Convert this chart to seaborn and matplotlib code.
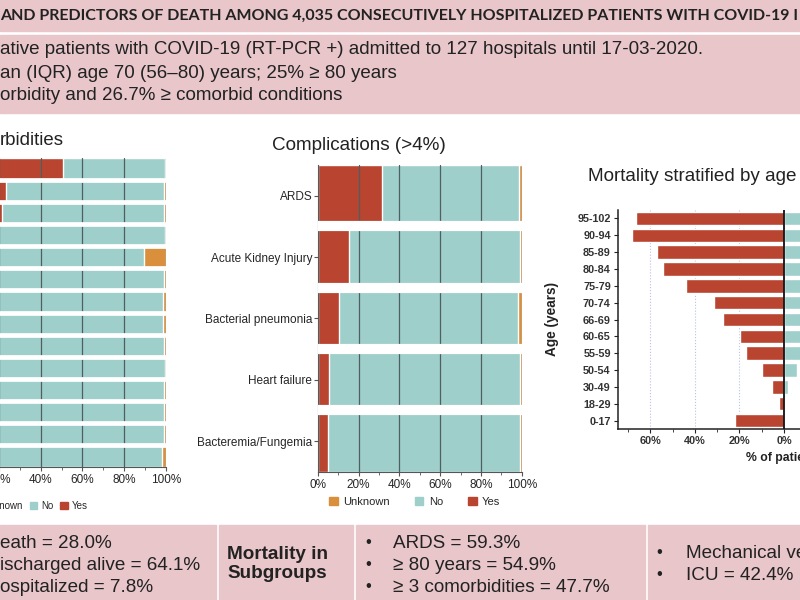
import numpy as np
import pandas as pd
import matplotlib.pyplot as plt
import seaborn as sns
from matplotlib.patches import Rectangle, Patch
from matplotlib.ticker import FuncFormatter, MultipleLocator

sns.set_style("ticks")
plt.rcParams['font.family'] = ['Liberation Sans', 'DejaVu Sans']

W, H = 800, 600
RED = '#b9442f'
TEAL = '#9ecfcb'
ORANGE = '#d98f3c'
PINK = '#e8c6ca'
GRID = '#4f5f5f'

# --- data ---------------------------------------------------------------
# comorbidities (the category labels are cropped out of view)
comorb = ['Hypertension', 'Dyslipidemia', 'Diabetes', 'Chronic heart disease',
          'Obesity', 'Chronic lung disease', 'Chronic kidney disease',
          'Neurological disease', 'Cancer', 'Asthma', 'Liver disease',
          'Dementia', 'Immunosuppression', 'HIV']
comorb_yes = [50.9, 23.2, 21.6, 18.9, 16.5, 14.0, 12.3, 10.6, 9.0, 7.5, 6.0, 4.8, 3.5, 2.2]
comorb_unknown = [0.4, 0.8, 0.6, 0.5, 10.4, 0.6, 1.1, 1.1, 0.6, 0.5, 0.6, 0.6, 0.8, 2.0]

compl = ['ARDS', 'Acute Kidney Injury', 'Bacterial pneumonia', 'Heart failure',
         'Bacteremia/Fungemia']
compl_yes = [31.4, 15.4, 10.5, 5.7, 4.9]
compl_unknown = [1.1, 0.6, 1.6, 1.0, 0.8]

age_groups = ['95-102', '90-94', '85-89', '80-84', '75-79', '70-74', '66-69',
              '60-65', '55-59', '50-54', '30-49', '18-29', '0-17']
mort_left = [66.5, 68.4, 56.9, 54.2, 44.0, 31.3, 27.6, 19.8, 17.2, 10.0, 5.5, 2.4, 22.0]
mort_right = [55.0, 50.0, 45.0, 40.0, 30.0, 22.0, 16.0, 12.0, 8.0, 5.7, 1.7, 0.0, 0.0]

legend_labels = ['Unknown', 'No', 'Yes']


def box(x0, y0, x1, y1):
    return [x0 / W, 1 - y1 / H, (x1 - x0) / W, (y1 - y0) / H]


def pt(x, y):
    return (x / W, 1 - y / H)


fig = plt.figure(figsize=(8, 6), dpi=100)

# pink banners
for x0, y0, x1, y1 in [(0, 0, 800, 31), (0, 35, 800, 113),
                       (0, 525, 216, 600), (219, 525, 353, 600),
                       (356, 525, 645, 600), (648, 525, 800, 600)]:
    fig.add_artist(Rectangle(pt(x0, y1), (x1 - x0) / W, (y1 - y0) / H,
                             transform=fig.transFigure, color=PINK, zorder=0))

fig.text(*pt(0, 16), 'AND PREDICTORS OF DEATH AMONG 4,035 CONSECUTIVELY HOSPITALIZED PATIENTS WITH COVID-19 I',
         family=['Lato', 'DejaVu Sans'], weight='bold', fontsize=11.5, color='#222222', va='center')
top_lines = ['ative patients with COVID-19 (RT-PCR +) admitted to 127 hospitals until 17-03-2020.',
             'an (IQR) age 70 (56\u201380) years; 25% \u2265 80 years',
             'orbidity and 26.7% \u2265 comorbid conditions']
for y, s in zip([50, 73, 96], top_lines):
    fig.text(*pt(0, y), s, fontsize=13.5, color='#222222', va='center')


def stacked(ax, cats, yes, unk):
    df = pd.DataFrame({'cat': cats, 'yes': yes, 'unk': unk})
    df['total'] = 100.0
    df['yes_no'] = df['total'] - df['unk']
    for col, c in [('total', ORANGE), ('yes_no', TEAL), ('yes', RED)]:
        sns.barplot(data=df, x=col, y='cat', orient='h', color=c, saturation=1,
                    width=1.0, ax=ax, zorder=1)
    ax.set_xlim(0, 100)
    ax.set_axisbelow(False)
    ax.xaxis.grid(True, color=GRID, lw=0.9)
    for i in range(len(cats) - 1):
        ax.axhline(i + 0.5, color='white', lw=ax.bbox.height / len(cats) * 0.1 + 1.2, zorder=3)
    ax.xaxis.set_major_locator(MultipleLocator(20))
    ax.xaxis.set_minor_locator(MultipleLocator(10))
    ax.xaxis.set_major_formatter(FuncFormatter(lambda v, p: f'{v:.0f}%'))
    ax.set_xlabel('')
    ax.set_ylabel('')
    for s in ['top', 'right']:
        ax.spines[s].set_visible(False)
    ax.spines['bottom'].set_color('#555555')
    ax.spines['left'].set_color('#555555')
    ax.tick_params(axis='x', labelsize=8.5, length=3, color='#555555', pad=2)
    ax.tick_params(axis='x', which='minor', length=2, color='#555555')
    ax.tick_params(axis='y', labelsize=8.5, length=3, color='#555555', pad=1)


# left panel: comorbidities
ax1 = fig.add_axes(box(-42.6, 158, 165.7, 467))
stacked(ax1, comorb, comorb_yes, comorb_unknown)
fig.text(*pt(0, 140), 'rbidities', fontsize=13.4, color='#222222', va='center')
handles = [Patch(color=c) for c in [ORANGE, TEAL, RED]]
fig.legend(handles, legend_labels, ncol=3, loc='center right', bbox_to_anchor=pt(88, 506),
           frameon=False, fontsize=7, handlelength=0.8, handleheight=0.8,
           columnspacing=0.7, handletextpad=0.4, borderaxespad=0, borderpad=0)

# middle panel: complications
ax2 = fig.add_axes(box(317.7, 165, 521.7, 471.7))
stacked(ax2, compl, compl_yes, compl_unknown)
fig.text(*pt(272, 145), 'Complications (>4%)', fontsize=13.6, color='#222222', va='center')
fig.legend(handles, legend_labels, ncol=3, loc='center left', bbox_to_anchor=pt(329, 502),
           frameon=False, fontsize=8, handlelength=0.8, handleheight=0.8,
           columnspacing=2.2, handletextpad=0.5, borderaxespad=0, borderpad=0)

# right panel: mortality by age
ax3 = fig.add_axes(box(617.7, 210, 950.3, 429))
adf = pd.DataFrame({'age': age_groups, 'left': -np.array(mort_left), 'right': mort_right})
sns.barplot(data=adf, x='left', y='age', orient='h', color=RED, saturation=1, width=0.8, ax=ax3)
sns.barplot(data=adf, x='right', y='age', orient='h', color=TEAL, saturation=1, width=0.8, ax=ax3)
ax3.set_xlim(-74.7, 74.7)
ax3.set_axisbelow(True)
ax3.xaxis.set_major_locator(MultipleLocator(20))
ax3.xaxis.set_minor_locator(MultipleLocator(10))
ax3.xaxis.grid(True, color='#b9c3e3', lw=0.8, ls=':')
ax3.axvline(0, color='#111111', lw=1.3, zorder=3)
ax3.xaxis.set_major_formatter(FuncFormatter(lambda v, p: f'{abs(v):.0f}%'))
sns.despine(ax=ax3)
for s in ['left', 'bottom']:
    ax3.spines[s].set_color('#222222')
    ax3.spines[s].set_linewidth(1.1)
ax3.tick_params(axis='both', labelsize=7.8, length=3, color='#222222', pad=2)
ax3.tick_params(axis='x', which='minor', length=2)
for lab in ax3.get_xticklabels() + ax3.get_yticklabels():
    lab.set_fontweight('bold')
    lab.set_color('#333333')
ax3.set_xlabel('% of patients', fontsize=8.8, weight='bold', color='#222222', labelpad=4)
ax3.set_ylabel('Age (years)', fontsize=9.8, weight='bold', color='#222222', labelpad=13)
fig.text(*pt(588, 177), 'Mortality stratified by age', fontsize=13.6, color='#222222', va='center')

# bottom boxes
for y, s in zip([543, 565, 587], ['eath = 28.0%', 'ischarged alive = 64.1%', 'ospitalized = 7.8%']):
    fig.text(*pt(0, y), s, fontsize=13.6, color='#222222', va='center')
fig.text(*pt(227, 564), 'Mortality in\nSubgroups', fontsize=13.6, weight='bold', color='#222222',
         va='center', linespacing=1.15)
for y, s in zip([543, 565, 587], ['ARDS = 59.3%', '\u2265 80 years = 54.9%', '\u2265 3 comorbidities = 47.7%']):
    fig.text(*pt(365, y), '\u2022', fontsize=12, color='#222222', va='center')
    fig.text(*pt(393, y), s, fontsize=13.6, color='#222222', va='center')
for y, s in zip([553, 575], ['Mechanical ventilation', 'ICU = 42.4%']):
    fig.text(*pt(656, y), '\u2022', fontsize=12, color='#222222', va='center')
    fig.text(*pt(686, y), s, fontsize=13.6, color='#222222', va='center')

fig.savefig('out.png', dpi=100)
